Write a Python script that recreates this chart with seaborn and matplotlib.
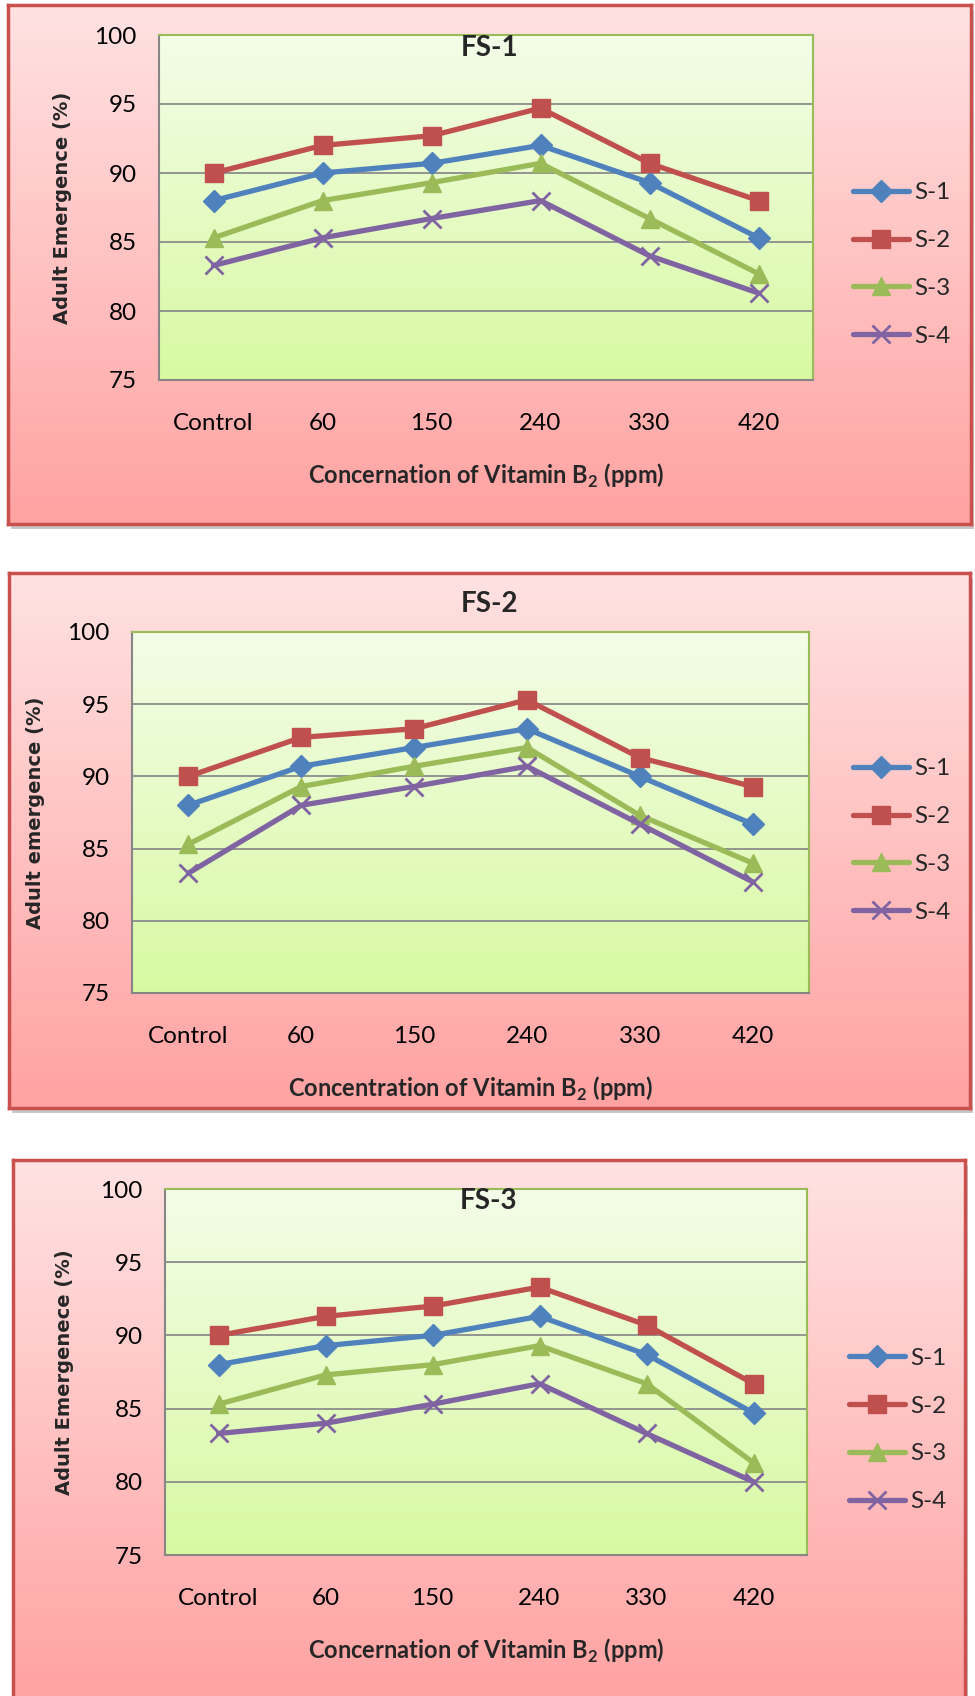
import numpy as np
import pandas as pd
import matplotlib
matplotlib.use('Agg')
import matplotlib.pyplot as plt
from matplotlib.colors import LinearSegmentedColormap
from matplotlib.patches import Rectangle
import seaborn as sns

W, H = 975, 1696

categories = ['Control', '60', '150', '240', '330', '420']
series = ['S-1', 'S-2', 'S-3', 'S-4']

# FS-1
fs1_s1 = [88.0, 90.0, 90.7, 92.0, 89.3, 85.3]
fs1_s2 = [90.0, 92.0, 92.7, 94.7, 90.7, 88.0]
fs1_s3 = [85.3, 88.0, 89.3, 90.7, 86.7, 82.7]
fs1_s4 = [83.3, 85.3, 86.7, 88.0, 84.0, 81.3]

# FS-2
fs2_s1 = [88.0, 90.7, 92.0, 93.3, 90.0, 86.7]
fs2_s2 = [90.0, 92.7, 93.3, 95.3, 91.3, 89.3]
fs2_s3 = [85.3, 89.3, 90.7, 92.0, 87.3, 84.0]
fs2_s4 = [83.3, 88.0, 89.3, 90.7, 86.7, 82.7]

# FS-3
fs3_s1 = [88.0, 89.3, 90.0, 91.3, 88.7, 84.7]
fs3_s2 = [90.0, 91.3, 92.0, 93.3, 90.7, 86.7]
fs3_s3 = [85.3, 87.3, 88.0, 89.3, 86.7, 81.3]
fs3_s4 = [83.3, 84.0, 85.3, 86.7, 83.3, 80.0]

titles = ['FS-1', 'FS-2', 'FS-3']
ylabels = ['Adult Emergence (%)', 'Adult emergence (%)', 'Adult Emergenece (%)']
xlabels = [r'Concernation of Vitamin B$_\mathbf{2}$ (ppm)',
           r'Concentration of Vitamin B$_\mathbf{2}$ (ppm)',
           r'Concernation of Vitamin B$_\mathbf{2}$ (ppm)']
panel_values = [
    [fs1_s1, fs1_s2, fs1_s3, fs1_s4],
    [fs2_s1, fs2_s2, fs2_s3, fs2_s4],
    [fs3_s1, fs3_s2, fs3_s3, fs3_s4],
]

colors = ['#4F81BD', '#C0504D', '#9BBB59', '#8064A2']
markers = ['D', 's', '^', 'x']
msizes = [11, 13, 13, 13]

# layout in pixels: box (x0, y0, x1, y1), plot area, title y, legend x, ylabel x, xlabel y
layout = [
    dict(box=(8, 5, 971, 524), plot=(159, 35, 813, 380), title_y=48, leg_x=853, ylab_x=62, xlab_y=476),
    dict(box=(9, 573, 970, 1108), plot=(132, 632, 809, 993), title_y=604, leg_x=853, ylab_x=36, xlab_y=1089),
    dict(box=(13, 1160, 965, 1700), plot=(165, 1189, 807, 1555), title_y=1201, leg_x=849, ylab_x=64, xlab_y=1651),
]

sns.set_theme(style='white')
plt.rcParams['font.family'] = ['Lato', 'DejaVu Sans']
plt.rcParams['mathtext.fontset'] = 'custom'
plt.rcParams['mathtext.bf'] = 'Lato:bold'
plt.rcParams['mathtext.rm'] = 'Lato:bold'

pink = LinearSegmentedColormap.from_list('pink', ['#FFE2E2', '#FFA2A2'])
green = LinearSegmentedColormap.from_list('green', ['#F3FDE8', '#D8F9A2'])
grad = np.linspace(0, 1, 256).reshape(-1, 1)


def rect(x0, y0, x1, y1):
    return [x0 / W, 1 - y1 / H, (x1 - x0) / W, (y1 - y0) / H]


fig = plt.figure(figsize=(W / 100, H / 100), dpi=100)
fig.patch.set_facecolor('white')

for i, lay in enumerate(layout):
    bx0, by0, bx1, by1 = lay['box']
    # shadow
    fig.patches.append(Rectangle(((bx0 + 3) / W, 1 - (by1 + 5) / H), (bx1 - bx0) / W, (by1 - by0) / H,
                                 transform=fig.transFigure, facecolor='#C8C8C8', edgecolor='none', zorder=-1))
    bg = fig.add_axes(rect(*lay['box']), zorder=0)
    bg.imshow(grad, aspect='auto', cmap=pink, extent=(0, 1, 0, 1), origin='upper')
    bg.set_xticks([])
    bg.set_yticks([])
    for s in bg.spines.values():
        s.set_color('#C9504D')
        s.set_linewidth(2.5)

    ax = fig.add_axes(rect(*lay['plot']), zorder=2)
    ax.imshow(grad, aspect='auto', cmap=green, extent=(-0.5, 5.5, 75, 100), origin='upper', zorder=0)

    rows = []
    for name, vals in zip(series, panel_values[i]):
        for pos, v in enumerate(vals):
            rows.append({'pos': pos, 'value': v, 'series': name})
    df = pd.DataFrame(rows)

    for j, name in enumerate(series):
        sub = df[df['series'] == name]
        sns.lineplot(data=sub, x='pos', y='value', ax=ax, color=colors[j], marker=markers[j],
                     markersize=msizes[j], markeredgecolor=colors[j],
                     markeredgewidth=2.0 if markers[j] == 'x' else 1.0,
                     linewidth=3.8, errorbar=None, legend=False, zorder=3)

    ax.set_xlim(-0.5, 5.5)
    ax.set_ylim(75, 100)
    ax.set_xticks(range(len(categories)))
    ax.set_xticklabels(categories)
    ax.set_xticks(np.arange(-0.5, len(categories), 1), minor=True)
    ax.set_yticks(range(75, 101, 5))
    ax.tick_params(axis='x', which='major', length=0, pad=24, labelsize=17.5, colors='black')
    ax.tick_params(axis='x', which='minor', length=6, width=1.5, color='#868686', direction='out')
    ax.tick_params(axis='y', length=6, width=1.5, color='#868686', direction='out', pad=10,
                   labelsize=17.5, labelcolor='black')
    ax.set_axisbelow(True)
    ax.yaxis.grid(True, color='#8C8C8C', linewidth=1.3)
    ax.xaxis.grid(False)
    ax.set_xlabel('')
    ax.set_ylabel('')
    for side in ['left', 'bottom']:
        ax.spines[side].set_color('#868686')
        ax.spines[side].set_linewidth(1.5)
    for side in ['top', 'right']:
        ax.spines[side].set_color('#9BBB59')
        ax.spines[side].set_linewidth(1.5)

    px0, py0, px1, py1 = lay['plot']
    fig.text((bx0 + bx1) / 2 / W, 1 - lay['title_y'] / H, titles[i], ha='center', va='center',
             fontsize=20, fontweight='bold', zorder=5)
    fig.text((px0 + px1) / 2 / W, 1 - lay['xlab_y'] / H, xlabels[i], ha='center', va='center',
             fontsize=17, fontweight='bold')
    fig.text(lay['ylab_x'] / W, 1 - (py0 + py1) / 2 / H, ylabels[i], ha='center', va='center',
             rotation=90, fontsize=14, fontweight='bold', family=['DejaVu Sans'])

    ax.legend(handles=ax.get_lines(), labels=series, loc='center left',
              bbox_to_anchor=(lay['leg_x'] / W, 1 - (by0 + min(by1, H + 4)) / 2 / H),
              bbox_transform=fig.transFigure, frameon=False, handlelength=2.3,
              handletextpad=0.2, labelspacing=1.1, fontsize=17.5, borderpad=0, borderaxespad=0)

fig.savefig('out.png', dpi=100)
